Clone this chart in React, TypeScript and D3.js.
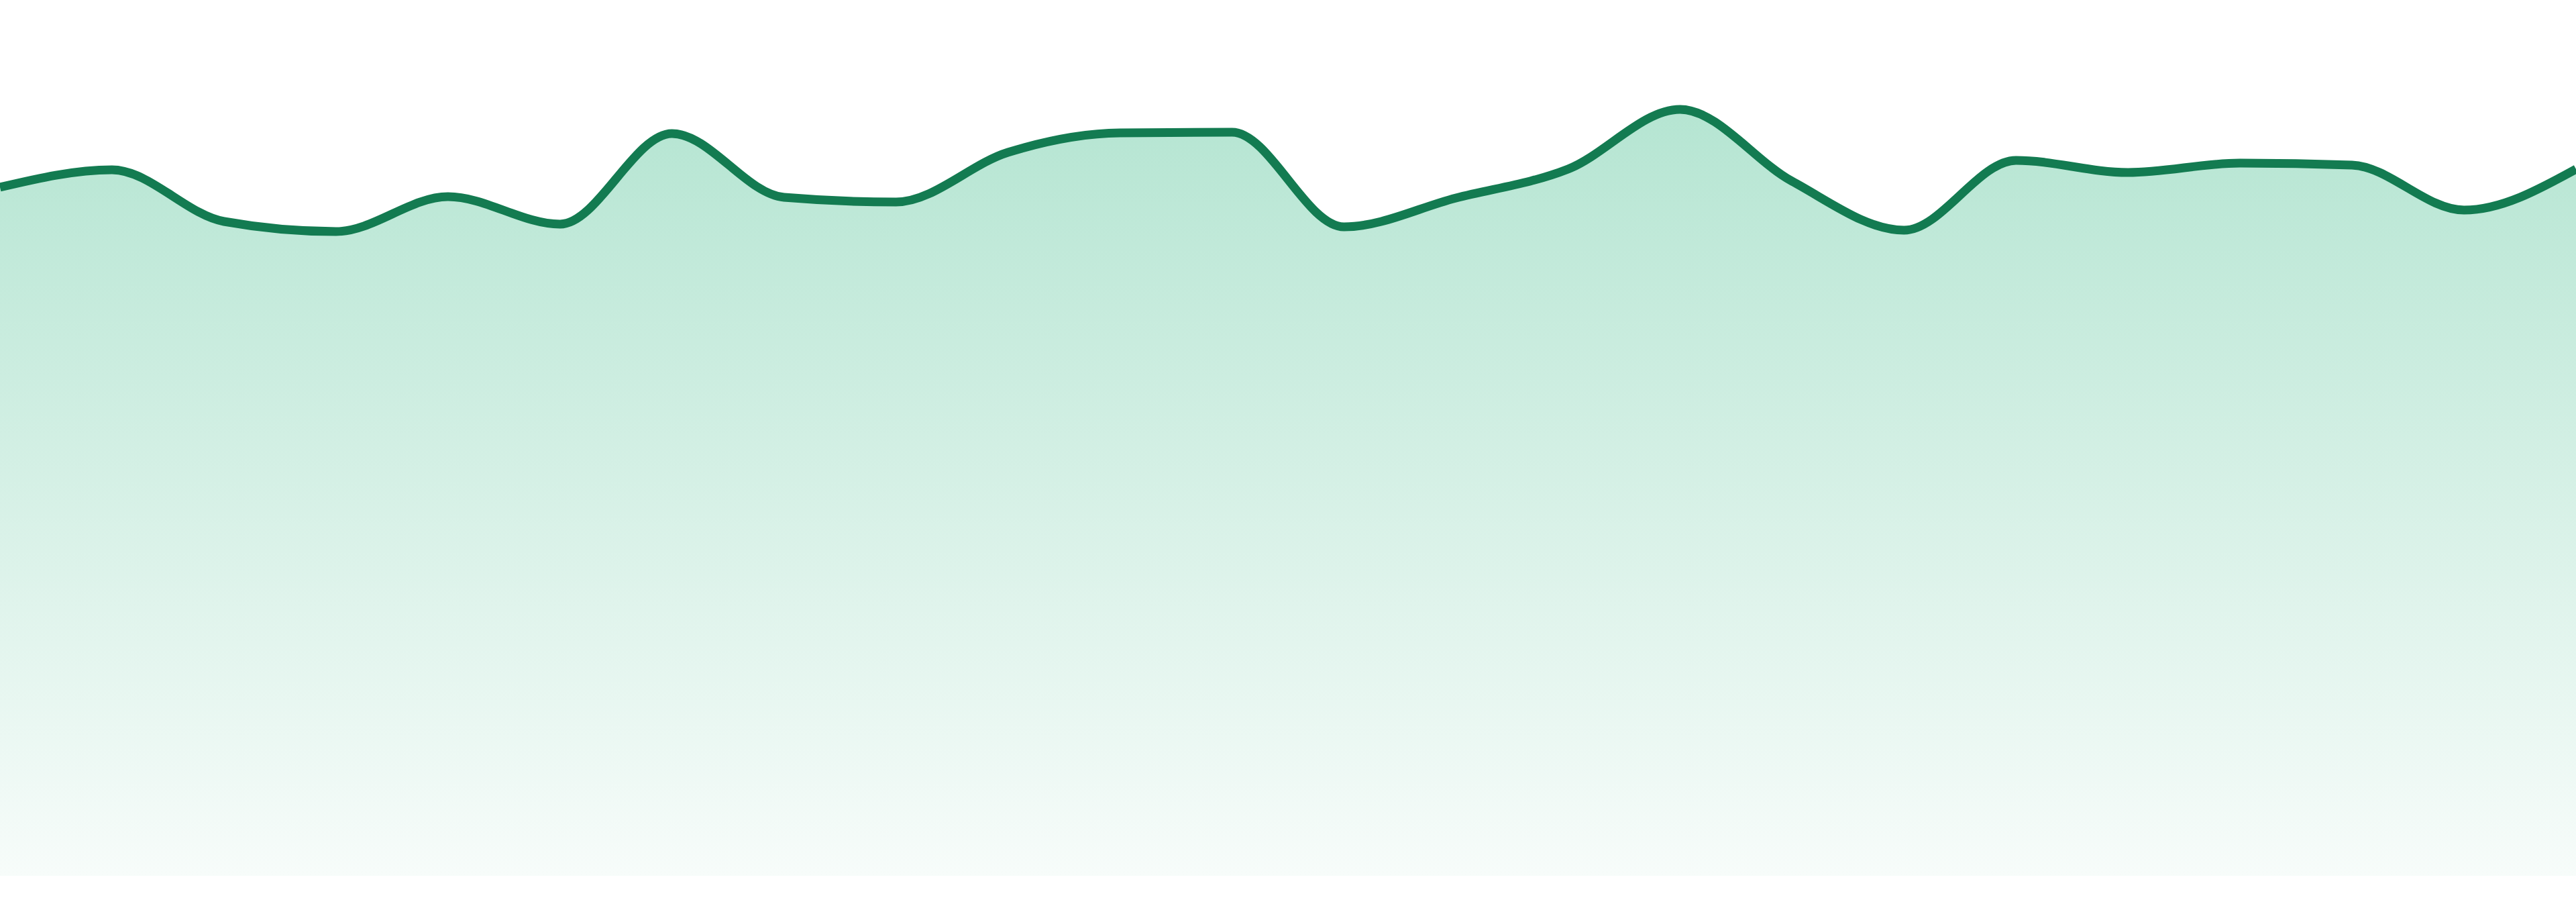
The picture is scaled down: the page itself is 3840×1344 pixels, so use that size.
import React from "react";
import * as d3 from "d3";

const categories: string[] = [
  "01", "02", "03", "04", "05", "06", "07", "08", "09", "10", "11", "12",
  "13", "14", "15", "16", "17", "18", "19", "20", "21", "22", "23", "24",
];

const values: number[] = [
  1026, 1052, 975, 960, 1012, 971, 1106, 1011, 1004, 1078, 1107, 1108,
  967, 1010, 1053, 1142, 1035, 962, 1066, 1048, 1062, 1059, 992, 1053,
];

const W = 3840;
const H = 1344;
const BOTTOM = 1305;

export default function App() {
  const x = d3.scalePoint<string>().domain(categories).range([0, W]).padding(0);
  const y = d3.scaleLinear().domain([0, 1305]).range([BOTTOM, 0]);

  const pts = categories.map((c, i) => ({ c, v: values[i] }));

  const area = d3
    .area<{ c: string; v: number }>()
    .x((d) => x(d.c) as number)
    .y0(y(0))
    .y1((d) => y(d.v))
    .curve(d3.curveMonotoneX);

  const line = d3
    .line<{ c: string; v: number }>()
    .x((d) => x(d.c) as number)
    .y((d) => y(d.v))
    .curve(d3.curveMonotoneX);

  const top = y(d3.max(values) as number);

  return (
    <svg
      width={W}
      height={H}
      style={{ position: "absolute", left: 0, top: 0, display: "block" }}
    >
      <defs>
        <linearGradient
          id="fillGrad"
          gradientUnits="userSpaceOnUse"
          x1={0}
          y1={top}
          x2={0}
          y2={BOTTOM}
        >
          <stop offset="0%" stopColor="#b5e5d2" />
          <stop offset="100%" stopColor="#f7fcfa" />
        </linearGradient>
      </defs>
      <rect x={0} y={0} width={W} height={H} fill="#ffffff" />
      <path d={area(pts) || ""} fill="url(#fillGrad)" />
      <path
        d={line(pts) || ""}
        fill="none"
        stroke="#137b51"
        strokeWidth={13}
        strokeLinejoin="round"
      />
    </svg>
  );
}
